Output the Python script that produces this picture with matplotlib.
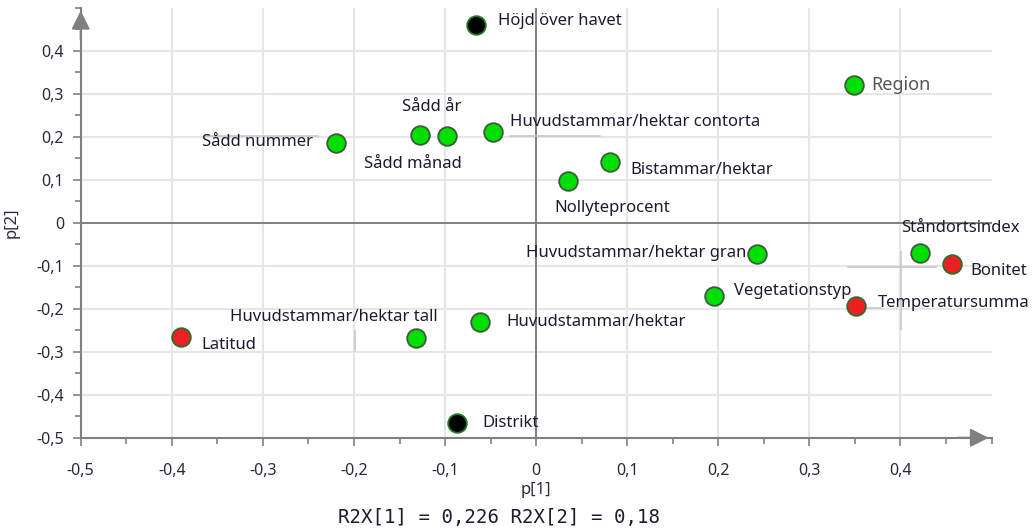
import matplotlib.pyplot as plt
from matplotlib.ticker import MultipleLocator, FuncFormatter
from matplotlib.transforms import IdentityTransform

names = ["Höjd över havet", "Region", "Sådd nummer", "Sådd år", "Sådd månad",
         "Huvudstammar/hektar contorta", "Bistammar/hektar", "Nollyteprocent",
         "Ståndortsindex", "Bonitet", "Temperatursumma",
         "Huvudstammar/hektar gran", "Vegetationstyp", "Huvudstammar/hektar",
         "Huvudstammar/hektar tall", "Latitud", "Distrikt"]
p1 = [-0.066, 0.349, -0.220, -0.127, -0.098, -0.047, 0.081, 0.035,
      0.422, 0.457, 0.351, 0.243, 0.195, -0.062, -0.132, -0.390, -0.087]
p2 = [0.460, 0.321, 0.186, 0.205, 0.202, 0.212, 0.142, 0.098,
      -0.070, -0.095, -0.193, -0.072, -0.170, -0.230, -0.267, -0.266, -0.465]
kind = ["black", "green", "green", "green", "green", "green", "green", "green",
        "green", "red", "red", "green", "green", "green", "green", "red", "black"]
r2x = [0.226, 0.18]

fill = {"green": "#00e000", "red": "#ec2020", "black": "#000000"}
edge = {"green": "#3c5a3c", "red": "#2f6b2f", "black": "#1f7a1f"}

# label offsets in pixels (dx, dy, ha)
label_pos = {
    "Höjd över havet": (22, 4, "left"),
    "Region": (17, 0, "left"),
    "Sådd nummer": (-23, 1, "right"),
    "Sådd år": (11, 28, "center"),
    "Sådd månad": (-34, -28, "center"),
    "Huvudstammar/hektar contorta": (17, 10, "left"),
    "Bistammar/hektar": (20, -8, "left"),
    "Nollyteprocent": (-14, -27, "left"),
    "Ståndortsindex": (-19, 25, "left"),
    "Bonitet": (18, -7, "left"),
    "Temperatursumma": (22, 3, "left"),
    "Huvudstammar/hektar gran": (-11, 1, "right"),
    "Vegetationstyp": (20, 5, "left"),
    "Huvudstammar/hektar": (27, 0, "left"),
    "Huvudstammar/hektar tall": (22, 21, "right"),
    "Latitud": (20, -8, "left"),
    "Distrikt": (25, 0, "left"),
}

# faint leader lines, pixel offsets from the point: (x0, y0, x1, y1)
leaders = {
    "Sådd nummer": [(-131, 7, -18, 7)],
    "Huvudstammar/hektar contorta": [(17, -4, 107, -4)],
    "Bonitet": [(-104, -3, -16, -3), (-51, 12, -51, -65)],
    "Temperatursumma": [(12, -2, 25, -2)],
    "Huvudstammar/hektar tall": [(-61, 7, -61, -13)],
}

plt.rcParams['font.family'] = ['Noto Sans', 'DejaVu Sans']

fig = plt.figure(figsize=(10.35, 5.3), dpi=100)
ax = fig.add_axes([0.078, 0.174, 0.880, 0.811])
ax.set_xlim(-0.5, 0.5)
ax.set_ylim(-0.5, 0.5)

ax.xaxis.set_minor_locator(MultipleLocator(0.05))
ax.yaxis.set_minor_locator(MultipleLocator(0.05))
ax.set_xticks([-0.5, -0.4, -0.3, -0.2, -0.1, 0, 0.1, 0.2, 0.3, 0.4])
ax.set_yticks([-0.5, -0.4, -0.3, -0.2, -0.1, 0, 0.1, 0.2, 0.3, 0.4])


def comma(v, pos):
    v = round(v, 2)
    if v == 0:
        return "0"
    return f"{v:.1f}".replace(".", ",")


ax.xaxis.set_major_formatter(FuncFormatter(comma))
ax.yaxis.set_major_formatter(FuncFormatter(comma))
ax.tick_params(which="both", direction="out", color="#808080", width=1.2,
               labelsize=11.5, labelcolor="#2a2a3a")
ax.tick_params(which="major", length=6, pad=6)
ax.tick_params(axis="x", which="major", pad=12)
ax.tick_params(which="minor", length=4)

ax.grid(True, which="major", color="#e6e6e6", lw=1.5, zorder=0)
ax.set_axisbelow(True)
for s in ["top", "right"]:
    ax.spines[s].set_visible(False)
for s in ["left", "bottom"]:
    ax.spines[s].set_color("#808080")
    ax.spines[s].set_linewidth(1.5)

ax.axhline(0, color="#707070", lw=1.2, zorder=1)
ax.axvline(0, color="#707070", lw=1.2, zorder=1)

# arrow heads
ax.annotate("", xy=(1.0, 0), xytext=(0.96, 0), xycoords="axes fraction",
            arrowprops=dict(arrowstyle="-|>", color="#808080", lw=1.5,
                            mutation_scale=28), annotation_clip=False)
ax.annotate("", xy=(0, 1.0), xytext=(0, 0.92), xycoords="axes fraction",
            arrowprops=dict(arrowstyle="-|>", color="#808080", lw=1.5,
                            mutation_scale=28), annotation_clip=False)

for n, x, y, k in zip(names, p1, p2, kind):
    px, py = ax.transData.transform((x, y))
    for x0, y0, x1, y1 in leaders.get(n, []):
        ax.plot([px + x0, px + x1], [py + y0, py + y1], color="#c8c8c8",
                lw=1.2, transform=IdentityTransform(), zorder=2)
    ax.scatter(x, y, s=180, c=fill[k], edgecolors=edge[k], linewidths=1.3,
               zorder=3)
    dx, dy, ha = label_pos[n]
    big = n == "Region"
    ax.annotate(n, (x, y), xytext=(dx, dy), textcoords="offset pixels",
                ha=ha, va="center", fontsize=13 if big else 12,
                color="#555555" if big else "#1c1c30", zorder=4)

ax.set_xlabel("p[1]", fontsize=12, color="#2a2a3a", labelpad=2)
ax.set_ylabel("p[2]", fontsize=12, color="#2a2a3a", labelpad=12)

fig.text(0.482, 0.023, "R2X[1] = " + f"{r2x[0]:.3f}".replace(".", ",")
         + " R2X[2] = " + f"{r2x[1]:.2f}".replace(".", ","),
         ha="center", va="center", family="DejaVu Sans Mono", fontsize=13.7,
         color="#1c1c30")

fig.savefig("out.png", dpi=100)
